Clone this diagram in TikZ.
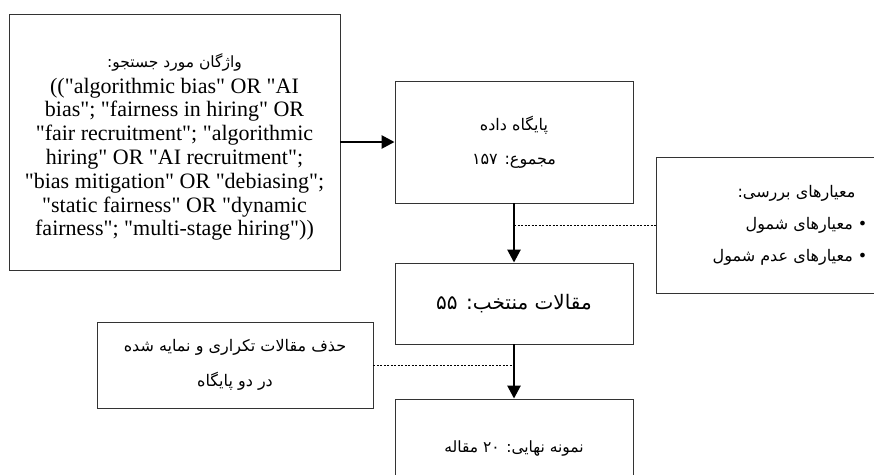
\documentclass[tikz,border=0pt]{standalone}
\usepackage{fontspec}
\setmainfont{Liberation Serif}[Ligatures=TeXOff]
\newfontfamily\farsi[Script=Arabic]{DejaVu Sans}
\TeXXeTstate=1
\usepackage{tikz}
\usetikzlibrary{arrows}
\usetikzlibrary{positioning,calc,arrows.meta}

\begin{document}
\begin{tikzpicture}[
	x=1pt, y=-1pt,
	box/.style={draw=black!80, line width=0.9pt, rectangle, inner sep=0pt, align=center},
	main arrow/.style={line width=2.6pt, -{Triangle[length=13pt,width=13pt]}},
	dotted line/.style={dash pattern=on 2pt off 1.5pt, line width=0.7pt},
	fa text/.style={font=\farsi\fontsize{16}{34}\selectfont},
	every node/.style={color=black}
	]
	\path[use as bounding box, clip] (0,0) rectangle (874,474);
	% boxes
	\node[box, minimum width=331pt, minimum height=256pt,
		font=\fontsize{22}{23.8}\selectfont] (keywords) at (174.5,142)
	{{\farsi\fontsize{15.5}{25}\selectfont\rule{0pt}{24pt}\beginR واژگان مورد جستجو:\endR}\\[2pt]
	(("algorithmic bias" OR "AI\\
	bias"; "fairness in hiring" OR\\
	"fair recruitment"; "algorithmic\\
	hiring" OR "AI recruitment";\\
	"bias mitigation" OR "debiasing";\\
	"static fairness" OR "dynamic\\
	fairness"; "multi-stage hiring"))};
	\node[box, fa text, minimum width=238pt, minimum height=122pt] (database) at (514,142)
	{\beginR پایگاه داده\endR\\
	\beginR مجموع: \beginL ۱۵۷\endL\endR};
	\node[box, minimum width=268pt, minimum height=136pt,
		align=right, font=\farsi\fontsize{16}{32}\selectfont] (criteria) at (790,225)
	{\beginR معیارهای بررسی:\endR\hspace*{12pt}\\
	\beginR • معیارهای شمول\endR\\
	\beginR • معیارهای عدم شمول\endR};
	\node[box, minimum width=238pt, minimum height=81pt,
		font=\farsi\fontsize{20}{33}\selectfont] (selected) at (514,303.5)
	{\beginR مقالات منتخب: \beginL ۵۵\endL\endR};
	\node[box, minimum width=276pt, minimum height=86pt,
		font=\farsi\fontsize{16}{35}\selectfont] (removal) at (235,365)
	{\beginR حذف مقالات تکراری و نمایه شده\endR\\
	\beginR در دو پایگاه\endR};
	\node[box, minimum width=238pt, minimum height=98pt,
		font=\farsi\fontsize{15.5}{34}\selectfont] (final) at (514,448)
	{\beginR نمونه نهایی: \beginL ۲۰\endL{} مقاله\endR};
	% arrows
	\draw[main arrow] (keywords.east) -- (database.west);
	\draw[main arrow] (database.south) -- (selected.north);
	\draw[main arrow] (selected.south) -- (final.north);
	% dotted links
	\draw[dotted line] (database.south |- criteria.west) -- (criteria.west);
	\draw[dotted line] (removal.east) -- (selected.south |- removal.east);
\end{tikzpicture}
\end{document}
